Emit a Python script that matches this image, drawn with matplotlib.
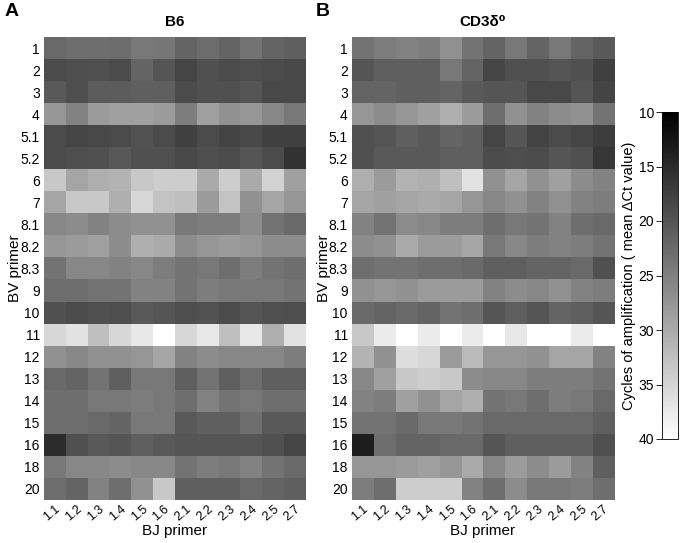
import numpy as np
import matplotlib
matplotlib.use('Agg')
import matplotlib.pyplot as plt

plt.rcParams['font.family'] = ['Liberation Sans', 'DejaVu Sans']

# 行 (BV primer) と列 (BJ primer)
bv_labels = ['1', '2', '3', '4', '5.1', '5.2', '6', '7', '8.1', '8.2', '8.3',
             '9', '10', '11', '12', '13', '14', '15', '16', '18', '20']
bj_labels = ['1.1', '1.2', '1.3', '1.4', '1.5', '1.6',
             '2.1', '2.2', '2.3', '2.4', '2.5', '2.7']

# B6 (mean delta Ct)
b6_ct = [
    [22.4, 22.9, 22.9, 22.7, 24.1, 23.9, 21.8, 22.7, 21.8, 23.5, 21.8, 21.2],
    [18.8, 19.2, 19.4, 18.8, 21.8, 20.0, 18.2, 19.4, 18.8, 19.2, 18.8, 18.5],
    [20.6, 19.2, 20.8, 20.8, 21.2, 21.2, 18.8, 19.4, 19.4, 20.0, 18.5, 18.5],
    [27.6, 25.3, 28.2, 28.8, 28.8, 28.2, 24.7, 28.8, 27.1, 27.6, 25.9, 24.1],
    [18.8, 18.2, 18.5, 18.8, 19.6, 18.8, 17.6, 18.8, 18.0, 18.5, 17.6, 17.6],
    [18.8, 19.2, 19.4, 20.4, 19.4, 19.4, 18.5, 19.2, 18.8, 20.0, 18.8, 15.9],
    [33.5, 29.4, 30.6, 31.2, 33.5, 34.1, 34.1, 30.0, 34.1, 30.0, 34.7, 28.8],
    [29.4, 33.5, 33.5, 30.6, 35.3, 32.9, 32.4, 28.2, 32.9, 27.1, 29.4, 27.6],
    [25.9, 26.5, 25.3, 26.5, 27.1, 27.1, 24.1, 24.7, 24.7, 26.5, 23.5, 22.4],
    [27.6, 28.2, 28.8, 26.5, 30.6, 30.0, 26.5, 27.6, 28.2, 27.6, 26.5, 26.5],
    [23.5, 25.9, 25.9, 25.3, 25.9, 24.7, 23.5, 24.1, 22.9, 24.7, 23.5, 22.9],
    [22.9, 22.9, 23.5, 23.5, 25.3, 25.3, 23.5, 24.7, 24.1, 24.1, 24.1, 23.5],
    [19.4, 18.8, 19.4, 19.2, 20.6, 20.0, 19.2, 19.6, 18.8, 20.0, 19.4, 19.2],
    [35.3, 36.5, 32.4, 35.3, 37.1, 40.0, 35.3, 37.1, 32.4, 37.1, 30.6, 36.5],
    [27.1, 25.9, 27.1, 27.1, 27.6, 29.4, 25.3, 26.5, 25.9, 25.9, 25.9, 24.7],
    [22.4, 21.8, 23.5, 21.2, 24.1, 24.1, 21.2, 23.5, 21.2, 22.9, 21.2, 21.2],
    [22.9, 22.9, 24.1, 24.1, 24.7, 24.1, 22.9, 25.3, 23.5, 24.1, 22.9, 22.9],
    [22.9, 22.9, 22.4, 21.8, 24.1, 24.1, 20.6, 21.2, 21.2, 22.9, 20.6, 20.6],
    [15.3, 19.4, 20.6, 20.0, 21.2, 20.6, 20.0, 20.0, 20.0, 20.0, 19.4, 18.2],
    [24.1, 25.9, 25.9, 26.5, 25.9, 25.9, 23.5, 24.7, 24.1, 25.3, 23.5, 22.4],
    [22.9, 21.8, 25.3, 22.9, 27.1, 33.5, 21.2, 21.2, 21.2, 22.4, 21.8, 21.2],
]

# CD3delta0 (mean delta Ct)
cd3_ct = [
    [23.5, 24.7, 25.3, 24.7, 27.1, 23.5, 21.8, 24.1, 21.8, 24.1, 21.8, 20.6],
    [20.0, 21.2, 21.2, 21.2, 24.1, 21.8, 18.2, 19.4, 19.4, 20.0, 19.4, 17.6],
    [21.8, 21.8, 21.2, 21.2, 21.8, 20.6, 20.0, 20.0, 18.5, 18.5, 20.0, 18.0],
    [27.6, 26.5, 27.6, 28.8, 30.6, 28.2, 22.9, 27.1, 25.3, 26.5, 27.1, 23.5],
    [19.4, 20.0, 21.2, 20.6, 21.8, 21.2, 18.2, 20.0, 18.0, 18.8, 18.2, 17.1],
    [19.4, 20.6, 20.6, 20.6, 21.2, 21.2, 18.8, 19.2, 18.8, 20.0, 19.4, 16.5],
    [30.6, 28.2, 31.2, 30.6, 32.4, 36.5, 27.1, 29.4, 27.1, 28.8, 26.5, 25.3],
    [29.4, 28.8, 29.4, 30.0, 29.4, 27.6, 25.9, 27.1, 25.3, 27.1, 25.3, 24.7],
    [25.3, 23.5, 26.5, 25.9, 24.7, 24.7, 22.9, 24.1, 23.5, 25.3, 22.9, 22.4],
    [26.5, 27.1, 30.0, 28.2, 28.2, 29.4, 24.1, 25.9, 24.7, 25.3, 24.7, 23.5],
    [22.9, 23.5, 23.5, 22.9, 22.9, 22.4, 21.2, 21.2, 21.8, 21.8, 22.4, 19.4],
    [27.1, 27.6, 27.1, 28.2, 28.2, 28.2, 25.3, 26.5, 25.9, 27.1, 25.3, 24.7],
    [22.4, 21.8, 22.4, 21.8, 23.5, 22.9, 20.0, 21.2, 20.0, 21.8, 21.2, 20.0],
    [33.5, 37.6, 40.0, 37.6, 40.0, 37.6, 40.0, 37.1, 40.0, 40.0, 37.6, 40.0],
    [31.2, 27.1, 35.9, 35.3, 28.2, 31.8, 27.6, 27.6, 27.1, 29.4, 29.4, 25.3],
    [25.9, 28.8, 33.5, 34.1, 33.5, 26.5, 25.9, 25.9, 24.7, 24.7, 24.7, 23.5],
    [25.3, 24.7, 28.8, 27.1, 29.4, 30.6, 23.5, 24.1, 22.9, 24.7, 24.1, 22.4],
    [23.5, 23.5, 22.4, 24.1, 24.1, 23.5, 22.4, 22.4, 22.4, 22.4, 22.4, 21.2],
    [13.5, 22.9, 21.8, 21.8, 22.4, 22.4, 20.0, 21.2, 21.2, 21.2, 21.2, 19.4],
    [27.6, 27.6, 28.2, 28.8, 27.6, 30.0, 25.9, 28.2, 26.5, 28.2, 25.3, 21.2],
    [24.7, 22.9, 34.1, 34.1, 34.1, 25.3, 22.9, 26.5, 24.1, 24.1, 24.7, 22.9],
]

cbar_ticks = [10, 15, 20, 25, 30, 35, 40]

fig = plt.figure(figsize=(6.8, 5.43), dpi=100)
W, H = 680.0, 543.0

def px_axes(x0, y0, x1, y1):
    return fig.add_axes([x0 / W, 1 - y1 / H, (x1 - x0) / W, (y1 - y0) / H])

ax_a = px_axes(44, 37, 306, 500)
ax_b = px_axes(352, 37, 614, 500)
cax = px_axes(662, 112, 678, 439)

im = None
for ax, data, title, lbl_x in [(ax_a, b6_ct, 'B6', -0.083),
                                (ax_b, cd3_ct, 'CD3δ⁰', -0.08)]:
    im = ax.imshow(np.array(data), cmap='gray', vmin=10, vmax=40,
                   aspect='auto', interpolation='nearest')
    ax.set_xticks(range(len(bj_labels)))
    ax.set_xticklabels(bj_labels, rotation=40, ha='right',
                       rotation_mode='anchor', fontsize=9)
    ax.set_yticks(range(len(bv_labels)))
    ax.set_yticklabels(bv_labels, fontsize=10)
    ax.tick_params(axis='y', length=0, pad=3)
    ax.tick_params(axis='x', length=0, pad=2)
    for s in ax.spines.values():
        s.set_visible(False)
    ax.set_title(title, fontsize=11, fontweight='bold', pad=8)
    ax.set_xlabel('BJ primer', fontsize=11)
    ax.xaxis.set_label_coords(0.5, -0.052)
    ax.set_ylabel('BV primer', fontsize=11)
    ax.yaxis.set_label_coords(lbl_x, 0.5)

# パネルラベル
fig.text(5 / W, 1 - 12 / H, 'A', fontsize=14, fontweight='bold', va='center')
fig.text(316 / W, 1 - 12 / H, 'B', fontsize=14, fontweight='bold', va='center')

# カラーバー
cb = fig.colorbar(im, cax=cax, ticks=cbar_ticks)
cb.ax.invert_yaxis()
cb.ax.yaxis.set_ticks_position('left')
cb.ax.yaxis.set_label_position('left')
cb.ax.tick_params(labelsize=10, length=4, width=0.6, pad=1.5)
cb.outline.set_linewidth(0.6)
cb.set_label('Cycles of amplification ( mean ΔCt value)', fontsize=10.5)
cb.ax.yaxis.set_label_coords(-1.65, 0.5)

plt.savefig('out.png', dpi=100)
plt.close()
